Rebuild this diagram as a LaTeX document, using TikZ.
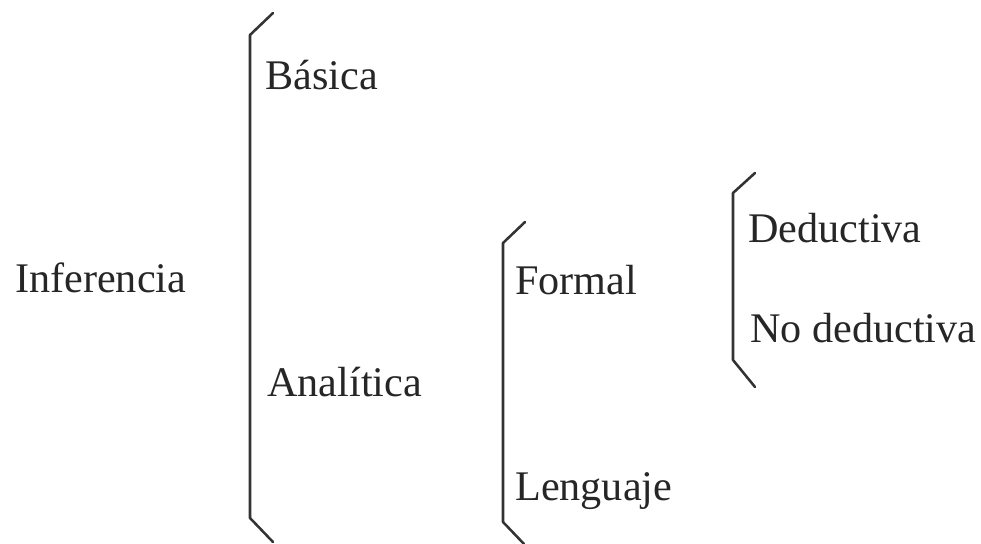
\documentclass[tikz,border=0pt]{standalone}
\usepackage{fontspec}
\setmainfont{Liberation Serif}
\tikzset{
  lbl/.style={anchor=base west, inner sep=0pt, font=\fontsize{30}{36}\selectfont, text=black!85},
  brack/.style={line width=1.8pt, draw=black!80, line join=round, line cap=round}
}
\begin{document}
\begin{tikzpicture}[x=0.025cm, y=-0.025cm]
  \useasboundingbox (0,0) rectangle (981,544);
  % Root
  \node[lbl] (inf) at (15,293) {Inferencia};
  % First bracket
  \draw[brack] (273,13) -- (250,35) -- (250,518) -- (273,542);
  \node[lbl] (bas) at (265,90) {Básica};
  \node[lbl] (ana) at (267,397) {Analítica};
  % Second bracket
  \draw[brack] (525,222) -- (503,243) -- (503,522) -- (524,544);
  \node[lbl] (for) at (515,295) {Formal};
  \node[lbl] (len) at (515,500) {Lenguaje};
  % Third bracket
  \draw[brack] (755,173) -- (733,193) -- (733,360) -- (755,387);
  \node[lbl] (ded) at (748,243) {Deductiva};
  \node[lbl] (nod) at (750,343) {No deductiva};
\end{tikzpicture}
\end{document}
